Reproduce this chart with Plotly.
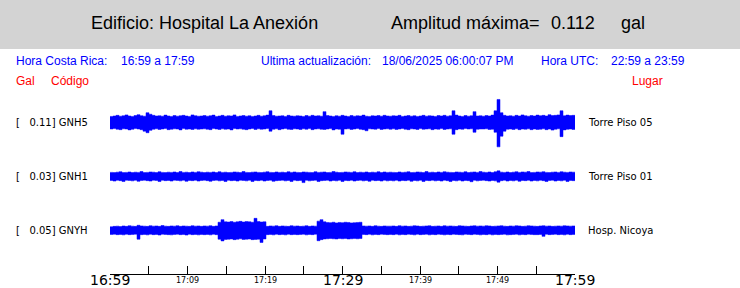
import plotly.graph_objects as go
import pandas as pd

# ---------------- data ----------------
building = "Hospital La Anexión"
amp_max = 0.112  # gal
hora_cr = "16:59 a 17:59"
ultima = "18/06/2025 06:00:07 PM"
hora_utc = "22:59 a 23:59"

stations = ["GNH5", "GNH1", "GNYH"]
places = ["Torre Piso 05", "Torre Piso 01", "Hosp. Nicoya"]
station_max = [0.11, 0.03, 0.05]  # gal

t_start = "2025-06-18 16:59:00"
t_end = "2025-06-18 17:59:00"
tick_minutes = ["16:59", "17:04", "17:09", "17:14", "17:19", "17:24", "17:29",
                "17:34", "17:39", "17:44", "17:49", "17:54", "17:59"]
tick_labels = ["16:59", "", "17:09", "", "17:19", "", "17:29",
               "", "17:39", "", "17:49", "", "17:59"]
tick_big = [True, False, False, False, False, False, True,
            False, False, False, False, False, True]

# envelope of each trace (mgal), upper and lower, one value per ~23 s column
gnh5_up = [
    28,30,33,29,31,35,30,28,32,36,31,29,45,38,33,30,31,29,34,30,28,32,29,31,33,30,28,35,31,29,30,
    32,29,31,34,28,30,33,29,31,30,35,28,30,32,29,31,28,30,33,29,31,34,54,32,29,30,31,28,33,30,29,
    31,30,28,32,29,33,30,31,29,50,32,30,28,31,29,33,30,28,32,29,31,30,34,29,28,31,30,32,29,33,30,
    29,31,30,33,28,30,32,29,31,28,30,33,29,31,30,28,32,30,33,29,31,54,34,30,28,32,29,31,50,30,31,
    29,32,30,34,54,106,45,33,30,31,29,33,30,35,31,29,32,30,34,31,33,30,36,32,33,35,54,31,34,32,33,
]
gnh5_lo = [
    30,28,31,33,29,30,34,31,28,30,33,40,47,36,31,29,32,30,28,33,31,29,30,34,28,31,30,32,29,31,30,
    29,31,33,28,30,32,29,31,30,34,28,30,29,31,33,30,28,32,29,31,30,28,40,31,29,33,30,28,31,32,29,
    30,32,29,31,28,33,30,29,31,32,30,28,34,30,31,54,30,29,32,30,28,31,33,38,29,30,31,28,32,30,29,
    31,29,32,30,28,31,33,29,30,32,28,31,30,29,33,30,31,28,32,30,29,54,33,30,31,28,30,29,45,31,30,
    30,29,32,31,45,112,63,40,31,30,32,29,33,30,31,29,33,30,32,31,29,33,30,35,31,29,65,34,31,30,32,
]
gnh1_up = [
    18,17,19,21,17,18,20,17,19,18,22,17,18,20,19,17,21,18,17,19,18,20,17,22,18,19,17,20,18,21,19,
    17,19,18,20,17,21,18,19,17,18,20,19,17,22,18,17,19,20,18,17,19,21,18,17,20,18,19,17,21,18,20,
    18,17,20,19,18,17,21,18,19,20,17,18,22,19,17,18,20,19,18,21,17,19,18,20,17,19,18,21,17,20,18,
    19,18,17,20,18,19,21,17,18,20,19,17,22,18,19,17,20,18,21,19,18,17,20,19,18,21,17,19,20,18,22,
    19,18,20,17,21,25,19,18,20,17,19,21,18,20,19,22,17,18,20,19,21,18,17,19,20,18,21,19,18,20,19,
]
gnh1_lo = [
    19,22,18,20,24,18,19,21,18,23,19,18,20,22,18,19,24,18,20,19,22,18,19,21,18,23,19,20,18,22,19,
    18,20,23,19,18,21,19,24,18,20,19,22,18,19,21,18,24,19,20,18,22,19,18,23,20,19,18,21,19,24,18,
    20,19,29,18,21,19,18,24,20,19,18,22,19,21,18,24,19,20,18,22,19,18,21,19,23,18,20,19,22,18,21,
    19,21,18,22,19,20,18,23,19,21,18,24,19,20,18,21,19,22,18,20,24,19,21,18,22,19,20,25,18,21,19,
    18,20,22,19,21,27,20,18,22,19,21,18,23,19,20,18,22,19,21,18,20,24,19,18,22,19,21,18,24,19,20,
]
gnyh_up = [
    17,19,20,18,21,19,22,20,19,24,21,20,19,22,20,21,19,23,20,19,21,20,22,19,21,20,19,22,20,21,19,
    21,20,22,19,21,38,50,40,39,41,38,40,42,39,41,40,38,56,41,39,40,19,21,20,22,19,21,20,19,22,20,
    21,19,20,22,19,21,20,43,50,40,37,36,38,35,37,36,38,37,35,36,37,38,21,20,21,19,22,20,19,21,20,
    20,21,19,22,20,21,19,20,22,21,19,20,21,22,19,20,21,19,22,20,21,20,19,22,21,20,19,21,22,20,21,
    20,22,21,19,20,21,22,20,19,21,20,22,21,19,20,22,21,20,19,21,22,20,21,19,20,21,20,22,21,20,21,
]
gnyh_lo = [
    18,17,19,18,20,17,19,18,17,40,19,18,20,17,19,18,21,17,18,19,20,18,17,19,18,21,17,19,18,20,18,
    19,18,20,17,19,40,48,41,40,39,42,40,38,41,40,39,42,41,40,55,39,19,18,20,17,19,18,20,17,19,18,
    19,18,17,20,18,19,17,47,42,39,38,37,38,39,37,38,37,39,38,37,38,37,18,19,17,20,18,19,17,18,19,
    18,19,17,20,18,19,17,18,20,17,19,18,17,20,18,19,17,18,20,18,19,17,18,19,20,17,18,19,17,18,20,
    18,19,17,20,18,19,18,17,20,19,18,17,20,18,19,17,18,19,19,18,27,17,19,18,17,19,18,20,17,19,18,
]
uppers = [gnh5_up, gnh1_up, gnyh_up]
lowers = [gnh5_lo, gnh1_lo, gnyh_lo]

# ---------------- layout geometry (pixels) ----------------
FW, FH = 740, 288
L, R, T, B = 110, 575, 49, 274
W, H = R - L, B - T

def fx(p):
    return (p - L) / W

def fy(p):
    return (B - p) / H

BLUE = "#0000ff"
RED = "#ff0000"
center_px = [122.5, 176.3, 230.5]
half_px = 26
mgal_per_px = 4.6

fig = go.Figure()
for k in range(3):
    up = uppers[k]
    lo = lowers[k]
    n = len(up)
    edges = pd.date_range(t_start, t_end, periods=n + 1)
    yname = "y" if k == 0 else f"y{k+1}"
    yu = [v / 1000 for v in up] + [up[-1] / 1000]
    yl = [-v / 1000 for v in lo] + [-lo[-1] / 1000]
    fig.add_trace(go.Scatter(x=edges, y=yu, mode="lines", line=dict(color=BLUE, width=0.5, shape="hv"),
                             yaxis=yname, showlegend=False, hoverinfo="skip"))
    fig.add_trace(go.Scatter(x=edges, y=yl, mode="lines", line=dict(color=BLUE, width=0.5, shape="hv"),
                             fill="tonexty", fillcolor=BLUE,
                             yaxis=yname, showlegend=False, hoverinfo="skip"))

rng = half_px * mgal_per_px / 1000
for k in range(3):
    c = center_px[k]
    ax = dict(domain=[fy(c + half_px), fy(c - half_px)], range=[-rng, rng], visible=False,
              fixedrange=True, anchor="x")
    key = "yaxis" if k == 0 else f"yaxis{k+1}"
    fig.layout[key] = ax

tickvals = [pd.Timestamp("2025-06-18 " + m + ":00") for m in tick_minutes]

fig.update_layout(
    width=FW, height=FH, autosize=False,
    margin=dict(l=L, r=FW - R, t=T, b=FH - B, pad=0),
    paper_bgcolor="white", plot_bgcolor="white",
    xaxis=dict(type="date", range=[t_start, t_end], anchor="free", position=0,
               tickvals=tickvals, ticktext=[""] * len(tickvals),
               ticks="inside", ticklen=8, tickwidth=1, tickcolor="black",
               showline=True, linecolor="black", linewidth=1,
               showgrid=False, zeroline=False, fixedrange=True),
    showlegend=False,
)

# gray header band
fig.add_shape(type="rect", xref="paper", yref="paper", x0=fx(0), x1=fx(FW), y0=fy(49), y1=fy(0),
              fillcolor="#d3d3d3", line=dict(width=0), layer="below")

def txt(text, xp, yp, size, color, family="Liberation Sans, Arial, sans-serif"):
    fig.add_annotation(text=text, xref="paper", yref="paper", x=fx(xp), y=fy(yp),
                       xanchor="left", yanchor="middle", showarrow=False,
                       font=dict(size=size, color=color, family=family))

# header
txt("Edificio: " + building, 89, 23, 18, "#000000")
txt("Amplitud máxima=", 389, 23, 18, "#000000")
txt(f"{amp_max:.3f}", 549, 23, 18, "#000000")
txt("gal", 619, 23, 18, "#000000")

# info line
txt("Hora Costa Rica:", 14, 60.5, 12, BLUE)
txt(hora_cr, 119, 60.5, 12, BLUE)
txt("Ultima actualización:", 259, 60.5, 12, BLUE)
txt(ultima, 380, 60.5, 12, BLUE)
txt("Hora UTC:", 539, 60.5, 12, BLUE)
txt(hora_utc, 609, 60.5, 12, BLUE)

txt("Gal", 14, 81, 12, RED)
txt("Código", 49, 81, 12, RED)
txt("Lugar", 630, 81, 12, RED)

# station labels
DJ = "DejaVu Sans, sans-serif"
for k in range(3):
    lab = "[\u00a0\u00a0\u00a0" + f"{station_max[k]:.2f}] " + stations[k]
    txt(lab, 14, center_px[k], 10, "#000000", DJ)
    txt(places[k], 586, center_px[k], 10, "#000000", DJ)

# time tick labels
for tv, lab, big in zip(tickvals, tick_labels, tick_big):
    if not lab:
        continue
    fig.add_annotation(text=lab, xref="x", yref="paper", x=tv, y=fy(279.5 if big else 280),
                       xanchor="center", yanchor="middle", showarrow=False, borderpad=0,
                       font=dict(size=14 if big else 8, color="#000000", family=DJ))

fig.write_html("out.html")
